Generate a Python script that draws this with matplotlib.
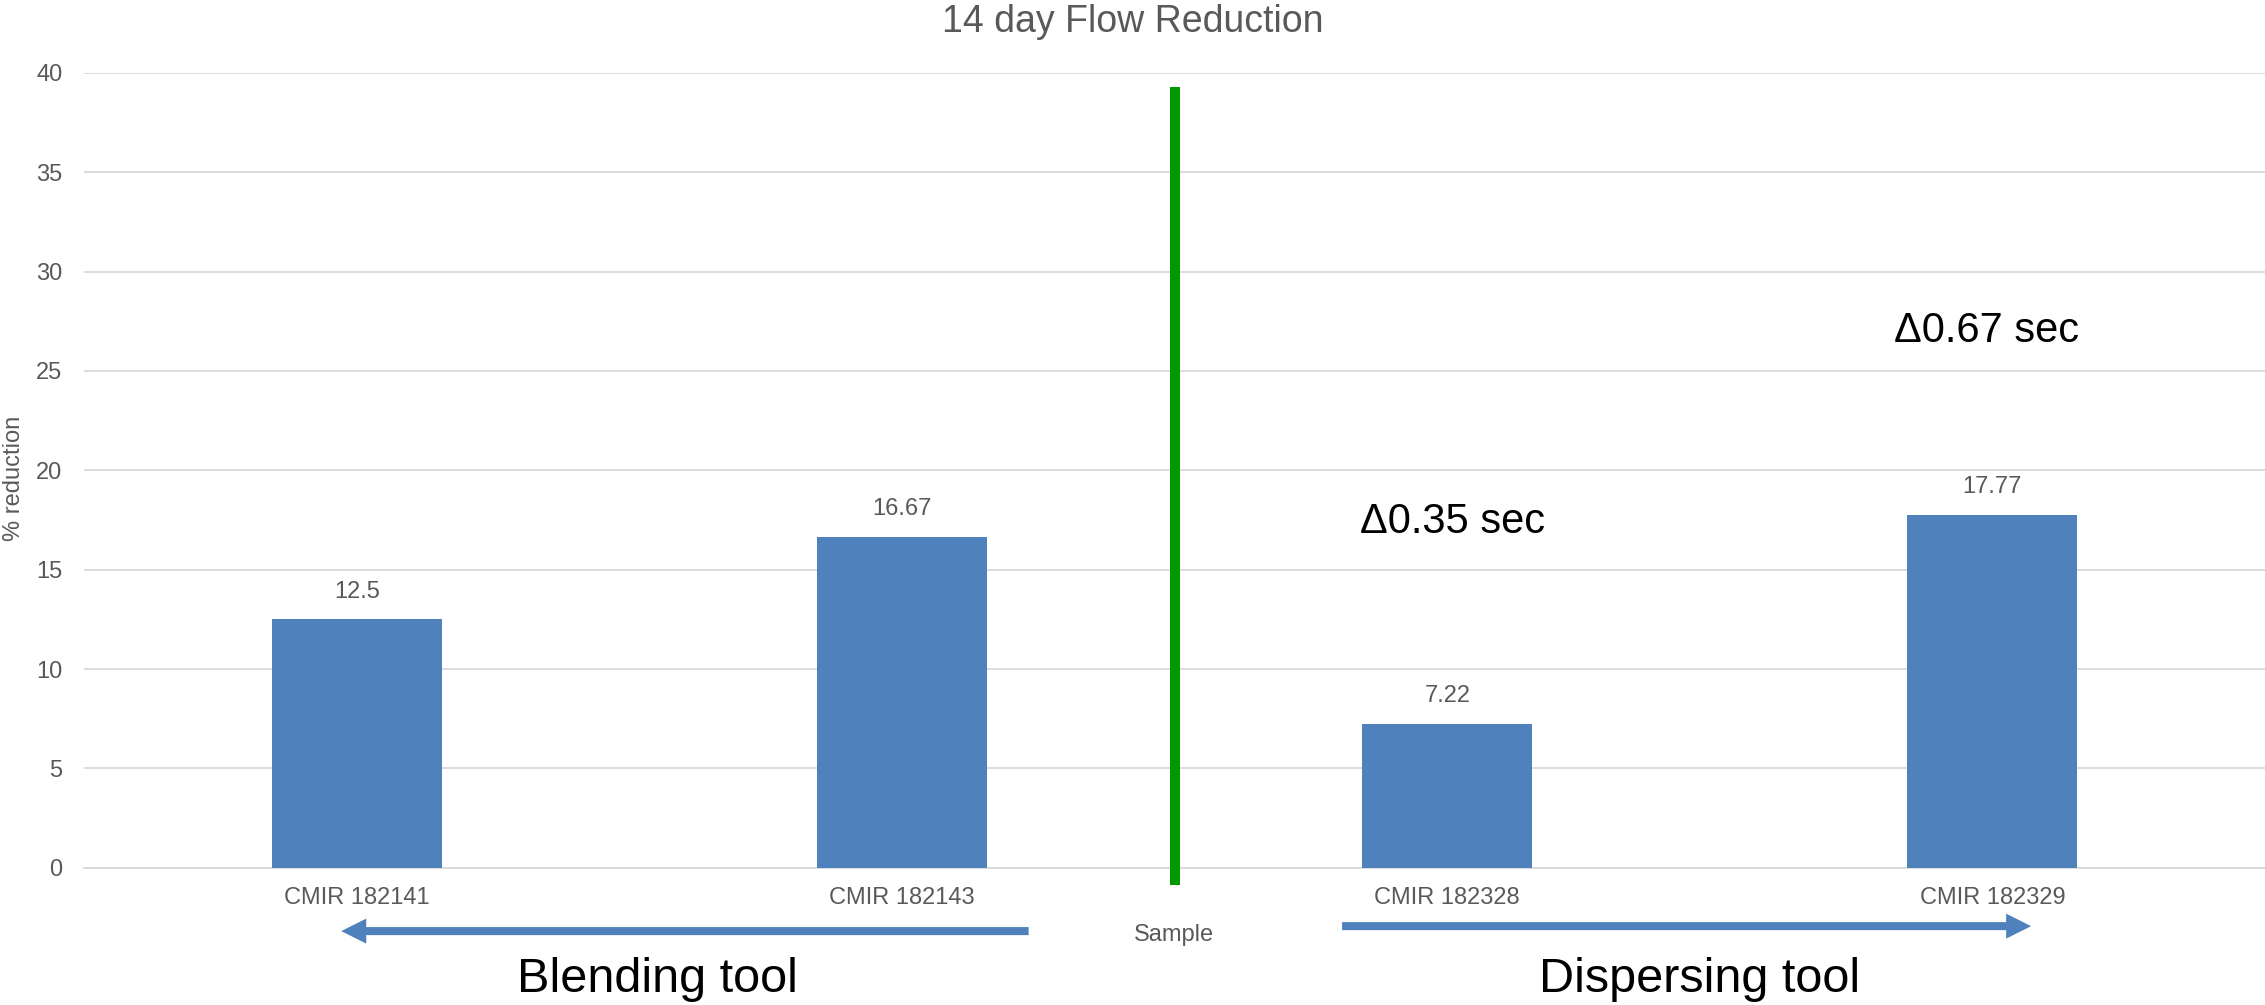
import matplotlib
matplotlib.use("Agg")
import matplotlib.pyplot as plt

plt.rcParams["font.family"] = ["Liberation Sans", "DejaVu Sans"]

# sample names and 14 day flow reduction (%)
samples = ["CMIR 182141", "CMIR 182143", "CMIR 182328", "CMIR 182329"]
reduction = [12.5, 16.67, 7.22, 17.77]
value_labels = ["12.5", "16.67", "7.22", "17.77"]
y_ticks = [0, 5, 10, 15, 20, 25, 30, 35, 40]

# flow time differences written over the dispersing-tool side
delta_labels = ["\u03940.35 sec", "\u03940.67 sec"]
delta_pos = [(2.01, 17.4), (2.99, 27.0)]

bar_color = "#4F81BD"
grid_color = "#D9D9D9"
text_gray = "#595959"

fig = plt.figure(figsize=(22.65, 10.05), dpi=100)
ax = fig.add_axes([0.0373, 0.1366, 0.9627, 0.7908])

x = list(range(len(samples)))
ax.bar(x, reduction, width=0.312, color=bar_color, zorder=3)

for xi, v, lab in zip(x, reduction, value_labels):
    ax.annotate(lab, (xi, v), xytext=(0, 20), textcoords="offset points",
                ha="center", va="center", fontsize=17, color=text_gray)

ax.set_xlim(-0.5, 3.5)
ax.set_ylim(0, 40)
ax.set_yticks(y_ticks)
ax.set_xticks(x)
ax.set_xticklabels(samples)
ax.tick_params(axis="both", length=0, labelsize=17, labelcolor=text_gray)
ax.tick_params(axis="y", pad=16)
ax.tick_params(axis="x", pad=14)
ax.grid(axis="y", color=grid_color, linewidth=1.3, zorder=0)
for side in ["top", "right", "left"]:
    ax.spines[side].set_visible(False)
ax.spines["bottom"].set_color(grid_color)
ax.spines["bottom"].set_linewidth(1.3)

fig.text(0.5, 1 - 32 / 1005, "14 day Flow Reduction", fontsize=27,
         color=text_gray, ha="center", va="baseline")

ax.set_ylabel("% reduction", fontsize=17, color=text_gray)
ax.yaxis.set_label_coords(-0.0273, 0.49)
ax.set_xlabel("Sample", fontsize=17, color=text_gray)
ax.xaxis.set_label_coords(0.4997, -0.0707)

# green divider between the two tools
ax.plot([1.5, 1.5], [-0.87, 39.3], color="#009A00", linewidth=7.2,
        solid_capstyle="butt", clip_on=False, zorder=4)

for lab, (px, py) in zip(delta_labels, delta_pos):
    ax.text(px, py, lab, fontsize=30, color="black", ha="center", va="center")

# direction arrows under the axis
arrow = dict(arrowstyle="simple,head_length=18,head_width=18,tail_width=5.8",
             mutation_scale=1, color=bar_color, lw=0, shrinkA=0, shrinkB=0)
ax.annotate("", xy=(-0.029, -3.19), xytext=(1.232, -3.19),
            arrowprops=arrow, annotation_clip=False)
ax.annotate("", xy=(3.071, -2.94), xytext=(1.807, -2.94),
            arrowprops=arrow, annotation_clip=False)

fig.text(657 / 2265, 1 - 979 / 1005, "Blending tool", fontsize=35,
         color="black", ha="center", va="center")
fig.text(1700 / 2265, 1 - 979 / 1005, "Dispersing tool", fontsize=35,
         color="black", ha="center", va="center")

fig.savefig("out.png", dpi=100)
